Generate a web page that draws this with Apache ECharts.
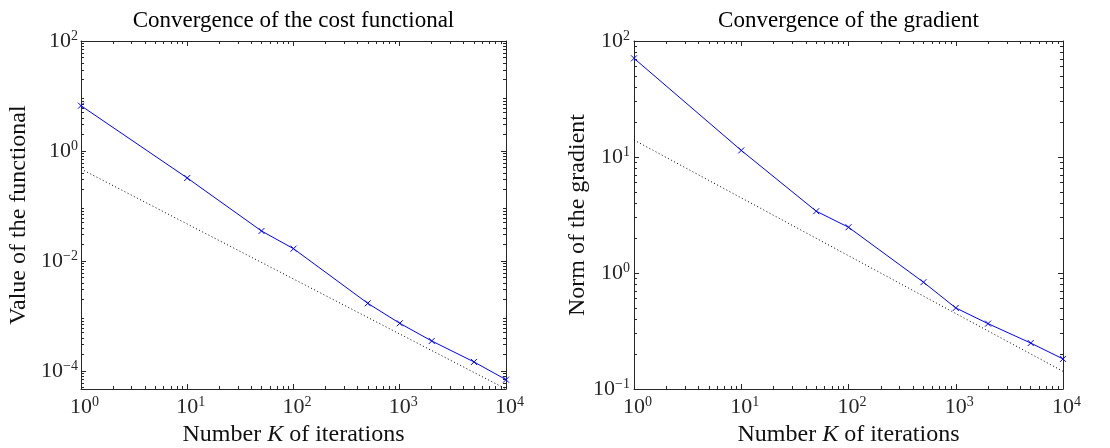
<!DOCTYPE html>
<html><head><meta charset="utf-8">
<script src="https://cdn.jsdelivr.net/npm/echarts@6/dist/echarts.min.js"></script>
<style>html,body{margin:0;padding:0;background:#fff}#c{width:1110px;height:448px}</style>
</head><body><div id="c"></div>
<script>
// ---- data ----
const iterations = [1, 10, 50, 100, 500, 1000, 2000, 5000, 10000];
const costValues = [6.66, 0.323, 0.0351, 0.01675, 0.0017, 7.36e-4, 3.51e-4, 1.46e-4, 6.95e-5];
const gradValues = [70.9, 11.4, 3.41, 2.48, 0.833, 0.50, 0.366, 0.249, 0.1817];
const refIterations = [1, 10000];
const costRefValues = [0.47, 4.7e-5];
const gradRefValues = [14.0, 0.142];
const xTicks = [1, 10, 100, 1000, 10000];
const costYTicks = [1e-4, 1e-2, 1, 100];
const gradYTicks = [0.1, 1, 10, 100];
const xRange = [1, 10000];
const costYRange = [4.7e-5, 100];
const gradYRange = [0.1, 100];
const titles = ['Convergence of the cost functional', 'Convergence of the gradient'];
const yNames = ['Value of the functional', 'Norm of the gradient'];
const xName = 'Number {i|K} of iterations';

// ---- helpers ----
const FONT = 'Liberation Serif';
const AX = '#262626';
const NAME_SIZE = 24;
function minorTicks(range) {
  const out = [];
  const lo = Math.floor(Math.log10(range[0])), hi = Math.ceil(Math.log10(range[1]));
  for (let e = lo; e < hi; e++) {
    for (let m = 2; m <= 9; m++) {
      const v = +(m * Math.pow(10, e)).toPrecision(6);
      if (v >= range[0] * 0.999 && v <= range[1] * 1.001) out.push(v);
    }
  }
  return out;
}
function logLabel(v) {
  const e = Math.round(Math.log10(v));
  return '{b|10}{s|' + (e < 0 ? '\u2212' + (-e) : e) + '}';
}
const rich = {
  b: { fontSize: 22, lineHeight: 24, fontFamily: FONT, color: AX },
  s: { fontSize: 14, lineHeight: 14, verticalAlign: 'top', fontFamily: FONT, color: AX }
};
function makeAxes(dim, g, range, ticks, name, nameGap, labelMargin) {
  const minor = minorTicks(range);
  const isX = dim === 'x';
  const p1 = isX ? 'bottom' : 'left', p2 = isX ? 'top' : 'right';
  const base = { type: 'log', logBase: 10, gridIndex: g, min: range[0], max: range[1], offset: 0,
    splitLine: { show: false }, minorTick: { show: false }, minorSplitLine: { show: false }, silent: true };
  const line = { show: true, lineStyle: { color: AX, width: 1 } };
  const noLine = { show: false };
  const major = { show: true, inside: true, length: 5, customValues: ticks, lineStyle: { color: AX, width: 1 } };
  const minorT = { show: true, inside: true, length: 3, customValues: minor, lineStyle: { color: AX, width: 1 } };
  const nameStyle = { fontFamily: FONT, fontSize: NAME_SIZE, color: '#111',
    rich: { i: { fontFamily: FONT, fontSize: NAME_SIZE, fontStyle: 'italic', color: '#111' } } };
  return [
    Object.assign({}, base, { position: p1, name: name, nameLocation: 'middle', nameGap: nameGap,
      nameRotate: isX ? 0 : 90, nameTextStyle: nameStyle, axisLine: line, axisTick: major,
      axisLabel: { show: true, customValues: ticks, formatter: logLabel, rich: rich, margin: labelMargin,
        padding: isX ? [0, 0, 0, 7] : 0 } }),
    Object.assign({}, base, { position: p1, axisLine: noLine, axisTick: minorT, axisLabel: { show: false } }),
    Object.assign({}, base, { position: p2, axisLine: line, axisTick: major, axisLabel: { show: false } }),
    Object.assign({}, base, { position: p2, axisLine: noLine, axisTick: minorT, axisLabel: { show: false } })
  ];
}
const X_SYMBOL = 'path://M0,0L10,10M10,0L0,10';
function dataSeries(xi, yi, values) {
  return { type: 'line', xAxisIndex: xi, yAxisIndex: yi, clip: false, silent: true,
    data: iterations.map((k, i) => [k, values[i]]),
    symbol: X_SYMBOL, symbolSize: 6, showSymbol: true,
    lineStyle: { color: '#0000ff', width: 1 },
    itemStyle: { color: '#0000ff', borderColor: '#0000ff', borderWidth: 1 }, z: 3 };
}
function refSeries(xi, yi, values) {
  return { type: 'line', xAxisIndex: xi, yAxisIndex: yi, clip: false, silent: true,
    data: refIterations.map((k, i) => [k, values[i]]), symbol: 'none',
    lineStyle: { color: '#000', width: 1, type: [1, 2.5] }, z: 2 };
}

const grids = [
  { left: 81, top: 41, width: 425, height: 348 },
  { left: 634, top: 41, width: 429, height: 348 }
];
const titleStyle = { fontFamily: FONT, fontSize: 23, fontWeight: 'normal', color: '#000' };

const option = {
  animation: false,
  backgroundColor: '#fff',
  title: [
    { text: titles[0], left: 293.5, textAlign: 'center', top: 9, padding: 0, textStyle: titleStyle },
    { text: titles[1], left: 848.5, textAlign: 'center', top: 9, padding: 0, textStyle: titleStyle }
  ],
  grid: grids.map(g => Object.assign({ outerBoundsMode: 'none', containLabel: false }, g)),
  xAxis: [].concat(
    makeAxes('x', 0, xRange, xTicks, xName, 30, 6),
    makeAxes('x', 1, xRange, xTicks, xName, 30, 6)
  ),
  yAxis: [].concat(
    makeAxes('y', 0, costYRange, costYTicks, yNames[0], 50, 3),
    makeAxes('y', 1, gradYRange, gradYTicks, yNames[1], 41, 4)
  ),
  series: [
    refSeries(0, 0, costRefValues),
    dataSeries(0, 0, costValues),
    refSeries(4, 4, gradRefValues),
    dataSeries(4, 4, gradValues)
  ]
};
const chart = echarts.init(document.getElementById('c'), null, { renderer: 'canvas' });
chart.setOption(option);
</script>
</body></html>
